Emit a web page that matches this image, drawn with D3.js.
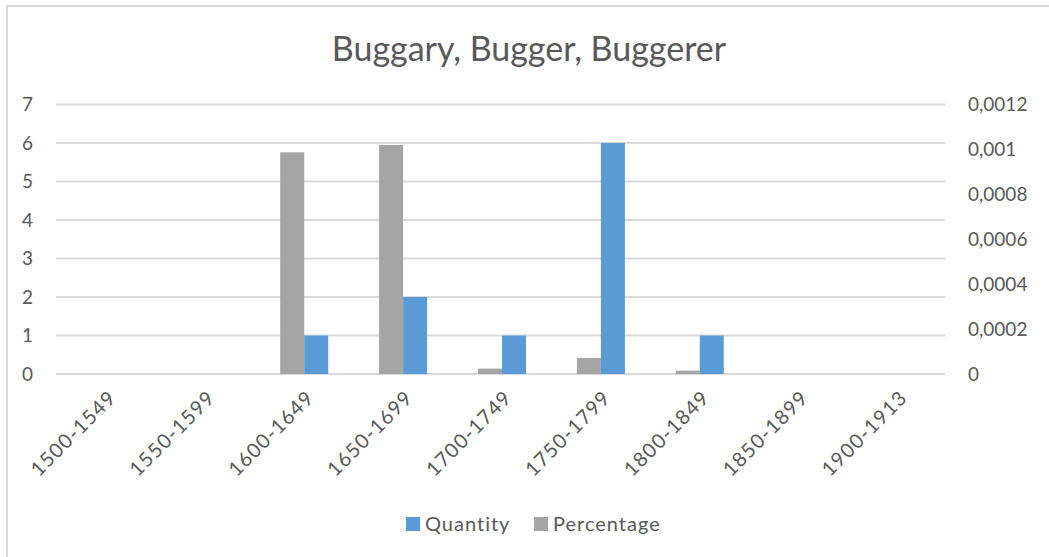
<!DOCTYPE html>
<html>
<head>
<meta charset="utf-8">
<script src="https://cdn.jsdelivr.net/npm/d3@7"></script>
<style>
  html, body { margin: 0; padding: 0; background: #fff; }
  svg { display: block; font-family: Lato, "Open Sans", sans-serif; }
</style>
</head>
<body>
<div id="chart"></div>
<script>
const periods = ['1500-1549','1550-1599','1600-1649','1650-1699','1700-1749','1750-1799','1800-1849','1850-1899','1900-1913'];
const quantity = [0, 0, 1, 2, 1, 6, 1, 0, 0];
const percentage = [0, 0, 0.000987, 0.00102, 0.000024, 0.000071, 0.000015, 0, 0];
const leftTicks = [0, 1, 2, 3, 4, 5, 6, 7];
const rightTicks = [0, 0.0002, 0.0004, 0.0006, 0.0008, 0.001, 0.0012];

const width = 1049, height = 557;
const textColor = '#595959';
const gridColor = '#D9D9D9';
const colors = { Quantity: '#5B9BD5', Percentage: '#A5A5A5' };

const svg = d3.select('#chart').append('svg')
  .attr('width', width)
  .attr('height', height);

// chart frame
svg.append('rect')
  .attr('x', 7).attr('y', 6)
  .attr('width', width + 20).attr('height', height + 20)
  .attr('fill', '#fff')
  .attr('stroke', gridColor)
  .attr('stroke-width', 2);

const plot = { left: 57, right: 947, top: 104.5, bottom: 374 };

const x = d3.scaleBand().domain(periods).range([plot.left, plot.right]);
const yL = d3.scaleLinear().domain([0, 7]).range([plot.bottom, plot.top]);
const yR = d3.scaleLinear().domain([0, 0.0012]).range([plot.bottom, plot.top]);
const barW = 24;
const xs = d3.scaleBand().domain(['Percentage', 'Quantity']).range([-barW, barW]);

// title
svg.append('text')
  .attr('x', 529).attr('y', 61)
  .attr('text-anchor', 'middle')
  .attr('fill', textColor)
  .style('font-size', '34px')
  .text('Buggary, Bugger, Buggerer');

// gridlines
svg.append('g').selectAll('line')
  .data(leftTicks)
  .join('line')
  .attr('x1', plot.left - 1).attr('x2', plot.right - 2)
  .attr('y1', d => yL(d)).attr('y2', d => yL(d))
  .attr('stroke', gridColor)
  .attr('stroke-width', 2);

// left axis
const yLAxisG = svg.append('g')
  .attr('transform', `translate(${plot.left - 24},0)`)
  .call(d3.axisLeft(yL).tickValues(leftTicks).tickSize(0).tickPadding(0).tickFormat(d3.format('d')));
yLAxisG.select('.domain').remove();
yLAxisG.selectAll('text')
  .attr('fill', textColor)
  .style('font-size', '19px')
  .style('font-family', 'Lato, sans-serif');

// right axis
const commaFmt = d => d === 0 ? '0' : String(d).replace('.', ',');
const yRAxisG = svg.append('g')
  .attr('transform', `translate(968,0)`)
  .call(d3.axisRight(yR).tickValues(rightTicks).tickSize(0).tickPadding(0).tickFormat(commaFmt));
yRAxisG.select('.domain').remove();
yRAxisG.selectAll('text')
  .attr('fill', textColor)
  .style('font-size', '19px')
  .style('font-family', 'Lato, sans-serif');

// bars
const barsG = svg.append('g');
barsG.selectAll('rect.pct')
  .data(periods.map((p, i) => ({ p, v: percentage[i] })))
  .join('rect')
  .attr('class', 'pct')
  .attr('x', d => x(d.p) + x.bandwidth() / 2 + xs('Percentage'))
  .attr('width', xs.bandwidth())
  .attr('y', d => yR(d.v))
  .attr('height', d => yR(0) - yR(d.v))
  .attr('fill', colors.Percentage);

barsG.selectAll('rect.qty')
  .data(periods.map((p, i) => ({ p, v: quantity[i] })))
  .join('rect')
  .attr('class', 'qty')
  .attr('x', d => x(d.p) + x.bandwidth() / 2 + xs('Quantity'))
  .attr('width', xs.bandwidth())
  .attr('y', d => yL(d.v))
  .attr('height', d => yL(0) - yL(d.v))
  .attr('fill', colors.Quantity);

// x axis labels
const xAxisG = svg.append('g')
  .attr('transform', `translate(0,${plot.bottom})`)
  .call(d3.axisBottom(x).tickSize(0).tickPadding(0));
xAxisG.select('.domain').remove();
xAxisG.selectAll('text')
  .attr('fill', textColor)
  .style('font-size', '20px')
  .style('letter-spacing', '1.2px')
  .style('font-family', 'Lato, sans-serif')
  .attr('text-anchor', 'end')
  .attr('dy', null)
  .attr('transform', 'translate(11,25) rotate(-45)');

// legend
const legendItems = ['Quantity', 'Percentage'];
const legendX = [406, 534];
const legend = svg.append('g');
legendItems.forEach((k, i) => {
  legend.append('rect')
    .attr('x', legendX[i]).attr('y', 517)
    .attr('width', 14).attr('height', 14)
    .attr('fill', colors[k]);
  legend.append('text')
    .attr('x', legendX[i] + 19).attr('y', 531)
    .attr('fill', textColor)
    .style('font-size', '20px')
    .style('letter-spacing', '1px')
    .text(k);
});
</script>
</body>
</html>
